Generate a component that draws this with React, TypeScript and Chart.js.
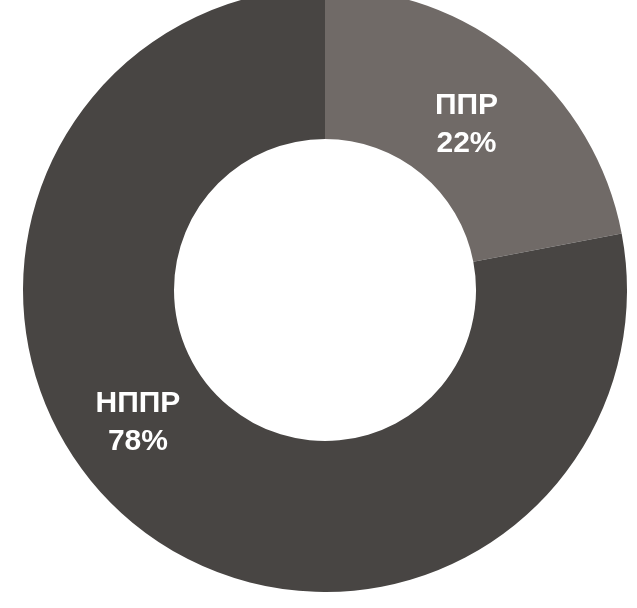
import React, { useEffect, useRef } from "react";
import { Chart, registerables } from "chart.js";

Chart.register(...registerables);

const categories: string[] = ["ППР", "НППР"];
const shares: number[] = [22, 78];
const sliceColors: string[] = ["#706a67", "#484543"];
// label placement: extra angle (degrees) and radial fraction within the ring
const labelAngleShift: number[] = [1.0, 15];
const labelRadiusFrac: number[] = [0.44, 0.52];

const labelPlugin = {
  id: "sliceLabels",
  afterDatasetsDraw(chart: any) {
    const { ctx } = chart;
    const meta = chart.getDatasetMeta(0);
    meta.data.forEach((arc: any, i: number) => {
      const p = arc.getProps(["x", "y", "startAngle", "endAngle", "innerRadius", "outerRadius"], true);
      const mid = (p.startAngle + p.endAngle) / 2 + (labelAngleShift[i] * Math.PI) / 180;
      const r = p.innerRadius + (p.outerRadius - p.innerRadius) * labelRadiusFrac[i];
      const cx = p.x + Math.cos(mid) * r;
      const cy = p.y + Math.sin(mid) * r;
      ctx.save();
      ctx.fillStyle = "#ffffff";
      ctx.font = "bold 30px 'Liberation Sans', Arial, sans-serif";
      ctx.textAlign = "center";
      ctx.textBaseline = "middle";
      ctx.fillText(categories[i], cx, cy - 19);
      ctx.fillText(shares[i] + "%", cx, cy + 19);
      ctx.restore();
    });
  },
};

export default function App() {
  const ref = useRef<HTMLCanvasElement | null>(null);
  useEffect(() => {
    if (!ref.current) return;
    const chart = new Chart(ref.current, {
      type: "doughnut",
      data: {
        labels: categories,
        datasets: [
          {
            data: shares,
            backgroundColor: sliceColors,
            borderWidth: 0,
          },
        ],
      },
      options: {
        responsive: false,
        animation: false,
        cutout: "50%",
        layout: { padding: 0 },
        plugins: {
          legend: { display: false },
          tooltip: { enabled: false },
        },
      },
      plugins: [labelPlugin],
    });
    return () => chart.destroy();
  }, []);
  return (
    <div style={{ position: "fixed", left: 0, top: 0, width: 637, height: 608, background: "#fff", overflow: "hidden" }}>
      <canvas ref={ref} width={604} height={604} style={{ position: "absolute", left: 23, top: -12, width: 604, height: 604 }} />
    </div>
  );
}
